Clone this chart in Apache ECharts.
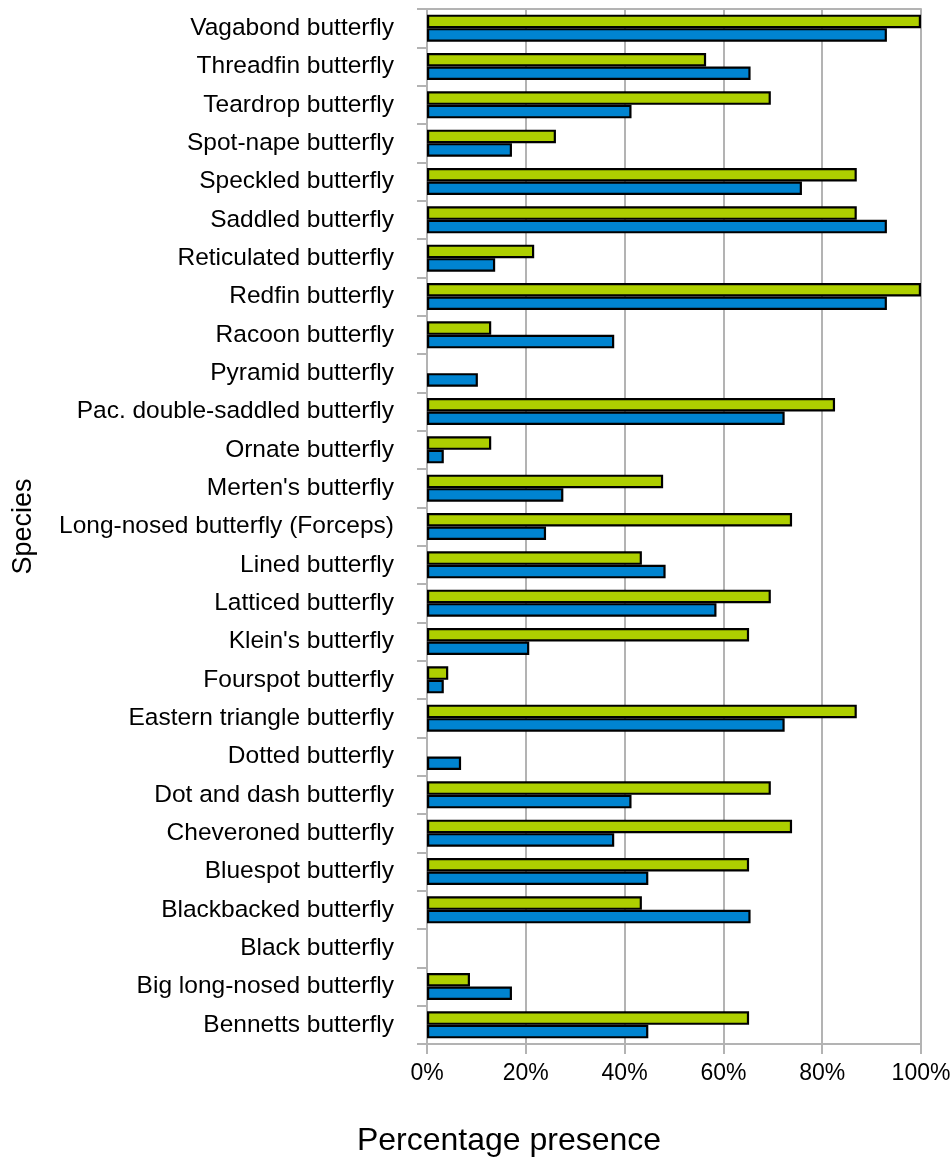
<!DOCTYPE html>
<html>
<head>
<meta charset="utf-8">
<script src="https://cdn.jsdelivr.net/npm/echarts@6/dist/echarts.min.js"></script>
<style>
html,body{margin:0;padding:0;background:#fff;}
#chart{width:951px;height:1160px;}
</style>
</head>
<body>
<div id="chart"></div>
<script>
const categories = [
  "Vagabond butterfly", "Threadfin butterfly", "Teardrop butterfly", "Spot-nape butterfly",
  "Speckled butterfly", "Saddled butterfly", "Reticulated butterfly", "Redfin butterfly",
  "Racoon butterfly", "Pyramid butterfly", "Pac. double-saddled butterfly", "Ornate butterfly",
  "Merten's butterfly", "Long-nosed butterfly (Forceps)", "Lined butterfly", "Latticed butterfly",
  "Klein's butterfly", "Fourspot butterfly", "Eastern triangle butterfly", "Dotted butterfly",
  "Dot and dash butterfly", "Cheveroned butterfly", "Bluespot butterfly", "Blackbacked butterfly",
  "Black butterfly", "Big long-nosed butterfly", "Bennetts butterfly"
];
const greenValues = [100, 56.5, 69.6, 26.1, 87.0, 87.0, 21.7, 100, 13.0, 0, 82.6, 13.0, 47.8, 73.9,
  43.5, 69.6, 65.2, 4.3, 87.0, 0, 69.6, 73.9, 65.2, 43.5, 0, 8.7, 65.2];
const blueValues = [93.1, 65.5, 41.4, 17.2, 75.9, 93.1, 13.8, 93.1, 37.9, 10.3, 72.4, 3.4, 27.6, 24.1,
  48.3, 58.6, 20.7, 3.4, 72.4, 6.9, 41.4, 37.9, 44.8, 65.5, 0, 17.2, 44.8];
const xTicks = [0, 20, 40, 60, 80, 100];

const SANS = "'Liberation Sans', Arial, sans-serif";
const GRID = '#b3b3b3';

function toData(arr) {
  return arr.map(v => v === 0 ? { value: 0, itemStyle: { borderWidth: 0 } } : v);
}

const chart = echarts.init(document.getElementById('chart'), null, { renderer: 'canvas' });
chart.setOption({
  animation: false,
  grid: { left: 427, right: 30, top: 9, bottom: 116, containLabel: false, outerBoundsMode: 'none' },
  xAxis: [{
    type: 'value', min: xTicks[0], max: xTicks[xTicks.length - 1], interval: 20,
    name: 'Percentage presence', nameLocation: 'middle', nameGap: 81,
    nameTextStyle: { fontFamily: SANS, fontSize: 32, color: '#000', padding: [0, 330, 0, 0] },
    axisLine: { show: true, lineStyle: { color: GRID, width: 2 } },
    axisTick: { show: true, length: 10, lineStyle: { color: GRID, width: 2 } },
    axisLabel: { formatter: '{value}%', fontFamily: SANS, fontSize: 23, color: '#000', margin: 18 },
    splitLine: { show: true, lineStyle: { color: GRID, width: 2 } }
  }, {
    type: 'value', position: 'top', min: 0, max: 100,
    axisLine: { show: true, lineStyle: { color: GRID, width: 2 } },
    axisTick: { show: false }, axisLabel: { show: false }, splitLine: { show: false }
  }],
  yAxis: {
    type: 'category', data: categories, inverse: true,
    name: 'Species', nameLocation: 'middle', nameGap: 390, nameRotate: 90,
    nameTextStyle: { fontFamily: SANS, fontSize: 27, color: '#000' },
    axisLine: { show: true, lineStyle: { color: GRID, width: 2 } },
    axisTick: { show: true, length: 10, interval: 0, lineStyle: { color: GRID, width: 2 } },
    axisLabel: { interval: 0, fontFamily: SANS, fontSize: 24.5, color: '#000', margin: 33 },
    splitLine: { show: false }
  },
  series: [{
    name: 'green', type: 'bar', data: toData(greenValues), barWidth: 13.5, barGap: '0%',
    itemStyle: { color: '#aecf00', borderColor: '#000', borderWidth: 2.2 }
  }, {
    name: 'blue', type: 'bar', data: toData(blueValues), barWidth: 13.5, barGap: '0%',
    itemStyle: { color: '#0084d1', borderColor: '#000', borderWidth: 2.2 }
  }]
});
</script>
</body>
</html>
